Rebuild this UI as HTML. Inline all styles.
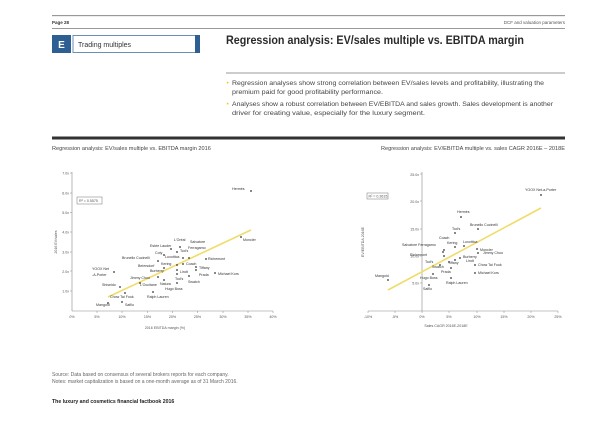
<!DOCTYPE html>
<html><head><meta charset="utf-8"><style>
html,body{margin:0;padding:0;background:#fff;width:600px;height:424px;overflow:hidden}
svg{display:block}
text{font-family:"Liberation Sans",sans-serif}
.t{font-size:3.6px;fill:#333}
.ax{font-size:3.6px;fill:#555}
</style></head><body>
<svg width="600" height="424" viewBox="0 0 600 424" xmlns="http://www.w3.org/2000/svg">
<line x1="52" y1="15.7" x2="565" y2="15.7" stroke="#777" stroke-width="0.8"/>
<text x="52" y="24" style="font-size:4.5px;font-weight:bold" fill="#333">Page 28</text>
<text x="565" y="24" text-anchor="end" style="font-size:4.5px" fill="#555">DCF and valuation parameters</text>
<line x1="52" y1="28.5" x2="565" y2="28.5" stroke="#777" stroke-width="0.8"/>
<rect x="52" y="35" width="19" height="18" fill="#2d5f92"/>
<text x="61.5" y="48" text-anchor="middle" style="font-size:10px;font-weight:bold" fill="#fff">E</text>
<rect x="73" y="35.5" width="125" height="17" fill="#fff" stroke="#6d8fb5" stroke-width="1"/>
<rect x="195" y="35" width="5" height="18" fill="#2d5f92"/>
<text x="78" y="47" style="font-size:7px" fill="#333">Trading multiples</text>
<text x="226" y="44" style="font-size:11.5px;font-weight:bold" fill="#2a2a2a" textLength="298" lengthAdjust="spacingAndGlyphs">Regression analysis: EV/sales multiple vs. EBITDA margin</text>
<line x1="226" y1="73" x2="565" y2="73" stroke="#777" stroke-width="0.8"/>
<g style="font-size:6.6px" fill="#444">
<text x="226.5" y="85" fill="#e8d000">•</text>
<text x="232" y="85" textLength="312" lengthAdjust="spacingAndGlyphs">Regression analyses show strong correlation between EV/sales levels and profitability, illustrating the</text>
<text x="232" y="94" textLength="151" lengthAdjust="spacingAndGlyphs">premium paid for good profitability performance.</text>
<text x="226.5" y="106" fill="#e8d000">•</text>
<text x="232" y="106" textLength="321" lengthAdjust="spacingAndGlyphs">Analyses show a robust correlation between EV/EBITDA and sales growth. Sales development is another</text>
<text x="232" y="115" textLength="193" lengthAdjust="spacingAndGlyphs">driver for creating value, especially for the luxury segment.</text>
</g>
<rect x="52" y="136.5" width="513" height="3" fill="#333"/>
<text x="52" y="150" style="font-size:5.6px" fill="#444">Regression analysis: EV/sales multiple vs. EBITDA margin 2016</text>
<text x="565" y="150" text-anchor="end" style="font-size:5.6px" fill="#444">Regression analysis: EV/EBITDA multiple vs. sales CAGR 2016E – 2018E</text>

<g stroke="#888" stroke-width="0.6">
<line x1="72" y1="172" x2="72" y2="311"/>
<line x1="72" y1="311" x2="273" y2="311"/>
</g>
<g class="ax" text-anchor="end">
<text x="69" y="174.5">7.0x</text><text x="69" y="194.5">6.0x</text><text x="69" y="214">5.0x</text>
<text x="69" y="233.5">4.0x</text><text x="69" y="253.5">3.0x</text><text x="69" y="273">2.0x</text>
<text x="69" y="292.5">1.0x</text>
</g>
<g stroke="#888" stroke-width="0.5">
<line x1="70" y1="173" x2="72" y2="173"/><line x1="70" y1="193" x2="72" y2="193"/><line x1="70" y1="212.7" x2="72" y2="212.7"/>
<line x1="70" y1="232" x2="72" y2="232"/><line x1="70" y1="252" x2="72" y2="252"/><line x1="70" y1="271" x2="72" y2="271"/><line x1="70" y1="291" x2="72" y2="291"/>
<line x1="97" y1="311" x2="97" y2="313"/><line x1="122" y1="311" x2="122" y2="313"/><line x1="147.5" y1="311" x2="147.5" y2="313"/><line x1="172.5" y1="311" x2="172.5" y2="313"/><line x1="197.5" y1="311" x2="197.5" y2="313"/><line x1="223" y1="311" x2="223" y2="313"/><line x1="248" y1="311" x2="248" y2="313"/><line x1="273" y1="311" x2="273" y2="313"/>
</g>
<g class="ax" text-anchor="middle">
<text x="72" y="318">0%</text><text x="97" y="318">5%</text><text x="122" y="318">10%</text><text x="147.5" y="318">15%</text><text x="172.5" y="318">20%</text><text x="197.5" y="318">25%</text><text x="223" y="318">30%</text><text x="248" y="318">35%</text><text x="273" y="318">40%</text>
</g>
<text x="165" y="329" class="ax" text-anchor="middle">2016 EBITDA margin (%)</text>
<text transform="translate(57,242) rotate(-90)" class="ax" text-anchor="middle">2016 EV/sales</text>
<rect x="77" y="197" width="25" height="7" fill="#fff" stroke="#777" stroke-width="0.5"/>
<text x="79" y="202" class="ax">R² = 0.5575</text>
<line x1="108" y1="297" x2="251" y2="230" stroke="#f0dc6a" stroke-width="1.6"/>
<g fill="#333">
<circle cx="251" cy="191" r="0.9"/><circle cx="241" cy="237" r="0.9"/><circle cx="180" cy="247" r="0.9"/>
<circle cx="189" cy="258" r="0.9"/><circle cx="171" cy="249" r="0.9"/><circle cx="177" cy="252" r="0.9"/>
<circle cx="164" cy="255" r="0.9"/><circle cx="183" cy="258" r="0.9"/><circle cx="158" cy="261" r="0.9"/>
<circle cx="177" cy="265" r="0.9"/><circle cx="206" cy="259" r="0.9"/><circle cx="183" cy="264" r="0.9"/>
<circle cx="164" cy="268" r="0.9"/><circle cx="196" cy="267" r="0.9"/><circle cx="177" cy="270" r="0.9"/>
<circle cx="196" cy="270" r="0.9"/><circle cx="215" cy="273" r="0.9"/><circle cx="114" cy="272" r="0.9"/>
<circle cx="158" cy="277" r="0.9"/><circle cx="177" cy="274" r="0.9"/><circle cx="189" cy="276" r="0.9"/>
<circle cx="164" cy="280" r="0.9"/><circle cx="140" cy="283" r="0.9"/><circle cx="177" cy="283" r="0.9"/>
<circle cx="120" cy="287" r="0.9"/><circle cx="153" cy="292" r="0.9"/><circle cx="125" cy="293" r="0.9"/>
<circle cx="122" cy="302" r="0.9"/><circle cx="108" cy="303" r="0.9"/>
</g>
<g class="t">
<text x="232" y="190">Hermès</text><text x="243" y="241">Moncler</text><text x="174" y="241">L'Oréal</text>
<text x="190" y="243">Salvatore</text><text x="188" y="249">Ferragamo</text><text x="150" y="247">Estée Lauder</text>
<text x="180" y="252">Tod's</text><text x="155" y="254">Coty</text><text x="165" y="258">Luxottica</text>
<text x="122" y="259">Brunello Cucinelli</text><text x="161" y="265">Kering</text><text x="208" y="260">Richemont</text>
<text x="138" y="267">Beiersdorf</text><text x="186" y="265">Coach</text><text x="150" y="272">Burberry</text>
<text x="199" y="269">Tiffany</text><text x="180" y="273">Lindt</text><text x="199" y="276">Prada</text>
<text x="218" y="275">Michael Kors</text><text x="92" y="270">YOOX Net</text><text x="92" y="276">-A-Porter</text>
<text x="130" y="279">Jimmy Choo</text><text x="175" y="280">Tod's</text><text x="188" y="283">Swatch</text>
<text x="160" y="285">Natura</text><text x="140" y="286">L'Occitane</text><text x="165" y="290">Hugo Boss</text>
<text x="102" y="286">Shiseido</text><text x="147" y="298">Ralph Lauren</text><text x="110" y="298">Chow Tai Fook</text>
<text x="125" y="306">Safilo</text><text x="96" y="306">Mangold</text>
</g>

<g stroke="#888" stroke-width="0.6">
<line x1="422" y1="172" x2="422" y2="311"/>
<line x1="368" y1="311" x2="558" y2="311"/>
</g>
<g stroke="#888" stroke-width="0.5">
<line x1="368" y1="311" x2="368" y2="313"/><line x1="395" y1="311" x2="395" y2="313"/><line x1="422" y1="311" x2="422" y2="313"/><line x1="449" y1="311" x2="449" y2="313"/><line x1="477" y1="311" x2="477" y2="313"/><line x1="504" y1="311" x2="504" y2="313"/><line x1="531" y1="311" x2="531" y2="313"/><line x1="558" y1="311" x2="558" y2="313"/>
<line x1="420" y1="174" x2="422" y2="174"/><line x1="420" y1="201" x2="422" y2="201"/><line x1="420" y1="229" x2="422" y2="229"/><line x1="420" y1="256" x2="422" y2="256"/><line x1="420" y1="283" x2="422" y2="283"/>
</g>
<g class="ax" text-anchor="end">
<text x="419" y="176">25.0x</text><text x="419" y="203">20.0x</text><text x="419" y="230.5">15.0x</text><text x="419" y="257.5">10.0x</text><text x="419" y="284.5">5.0x</text>
</g>
<g class="ax" text-anchor="middle">
<text x="368" y="318">-10%</text><text x="395" y="318">-5%</text><text x="422" y="318">0%</text><text x="449" y="318">5%</text><text x="477" y="318">10%</text><text x="504" y="318">15%</text><text x="531" y="318">20%</text><text x="558" y="318">25%</text>
</g>
<text x="446" y="327" class="ax" text-anchor="middle">Sales CAGR 2016E-2018E</text>
<text transform="translate(364,242) rotate(-90)" class="ax" text-anchor="middle">EV/EBITDA 2016E</text>
<rect x="367" y="193" width="21" height="6" fill="#fff" stroke="#777" stroke-width="0.5"/>
<text x="368.5" y="197.5" class="ax">R² = 0.3615</text>
<line x1="388" y1="290" x2="541" y2="208" stroke="#f0dc6a" stroke-width="1.6"/>
<g fill="#333">
<circle cx="541" cy="195" r="0.9"/><circle cx="461" cy="217" r="0.9"/><circle cx="478" cy="229" r="0.9"/>
<circle cx="455" cy="233" r="0.9"/><circle cx="444" cy="250" r="0.9"/><circle cx="455" cy="247" r="0.9"/>
<circle cx="464" cy="246" r="0.9"/><circle cx="443" cy="252" r="0.9"/><circle cx="477" cy="249" r="0.9"/>
<circle cx="478" cy="253" r="0.9"/><circle cx="444" cy="256" r="0.9"/><circle cx="460" cy="258" r="0.9"/>
<circle cx="455" cy="260" r="0.9"/><circle cx="449" cy="262" r="0.9"/><circle cx="475" cy="265" r="0.9"/>
<circle cx="440" cy="265" r="0.9"/><circle cx="451" cy="268" r="0.9"/><circle cx="475" cy="273" r="0.9"/>
<circle cx="388" cy="280" r="0.9"/><circle cx="433" cy="274" r="0.9"/><circle cx="451" cy="278" r="0.9"/>
<circle cx="429" cy="285" r="0.9"/>
</g>
<g class="t">
<text x="525" y="191">YOOX Net-a-Porter</text><text x="457" y="213">Hermès</text><text x="470" y="226">Brunello Cucinelli</text>
<text x="452" y="230">Tod's</text><text x="439" y="239">Coach</text><text x="447" y="244">Kering</text>
<text x="463" y="243">Luxottica</text><text x="402" y="246">Salvatore Ferragamo</text><text x="480" y="251">Moncler</text>
<text x="483" y="254">Jimmy Choo</text><text x="410" y="256">Richemont</text><text x="463" y="258">Burberry</text>
<text x="466" y="262">Lindt</text><text x="448" y="264">Tiffany</text><text x="478" y="266">Chow Tai Fook</text>
<text x="425" y="263">Tod's</text><text x="432" y="268">Swatch</text><text x="441" y="273">Prada</text>
<text x="478" y="274">Michael Kors</text><text x="375" y="277">Mangold</text><text x="420" y="279">Hugo Boss</text>
<text x="446" y="284">Ralph Lauren</text><text x="423" y="290">Safilo</text>
</g>

<text x="52" y="376" style="font-size:5px" fill="#666">Source: Data based on consensus of several brokers reports for each company.</text>
<text x="52" y="383" style="font-size:5px" fill="#666">Notes: market capitalization is based on a one-month average as of 31 March 2016.</text>
<text x="52" y="403" style="font-size:5.2px;font-weight:bold" fill="#222">The luxury and cosmetics financial factbook 2016</text>
</svg>
</body></html>
